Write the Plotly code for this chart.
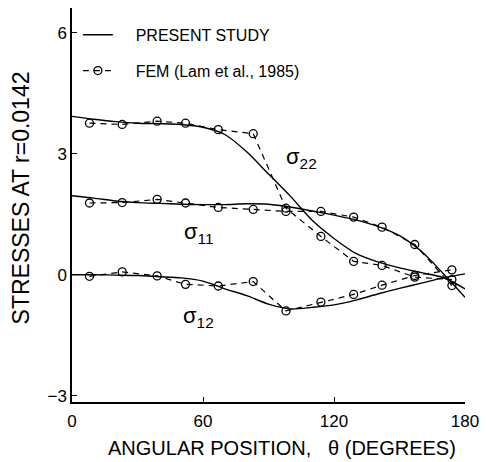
import plotly.graph_objects as go

# Analytical solution (present study), sampled along the angular position
theta_model = [0, 10, 20, 30, 40, 50, 60, 70, 80, 90, 100, 110, 120, 130, 140, 150, 160, 170, 180]
s22_model = [3.93, 3.86, 3.80, 3.76, 3.75, 3.73, 3.66, 3.48, 3.05, 2.50, 1.95, 1.35, 0.90, 0.53, 0.32, 0.17, 0.05, -0.07, -0.35]
s11_model = [1.96, 1.90, 1.83, 1.79, 1.77, 1.75, 1.74, 1.74, 1.76, 1.75, 1.68, 1.58, 1.48, 1.36, 1.20, 0.97, 0.58, 0.03, -0.56]
s12_model = [0.00, 0.00, -0.01, -0.02, -0.05, -0.08, -0.16, -0.35, -0.52, -0.73, -0.85, -0.81, -0.75, -0.63, -0.48, -0.34, -0.21, -0.08, 0.02]

# Finite element results (Lam et al., 1985)
theta_fem = [8, 23, 39, 52, 67, 83, 98, 114, 129, 142, 157, 174]
s22_fem = [3.76, 3.73, 3.81, 3.76, 3.60, 3.50, 1.65, 0.95, 0.33, 0.23, -0.06, -0.12]
s11_fem = [1.78, 1.79, 1.87, 1.78, 1.67, 1.62, 1.57, 1.57, 1.43, 1.18, 0.75, -0.27]
s12_fem = [-0.04, 0.07, -0.03, -0.24, -0.28, -0.17, -0.90, -0.68, -0.49, -0.26, -0.02, 0.12]

x_ticks = [0, 60, 120, 180]
y_ticks = [-3, 0, 3, 6]

FONT = "Liberation Sans"
INK = "black"
PAD = "\u00a0" * 4  # extra gap between legend sample and its label

fig = go.Figure()

models = [s22_model, s11_model, s12_model]
fems = [s22_fem, s11_fem, s12_fem]

for i, vals in enumerate(models):
    fig.add_trace(go.Scatter(
        x=theta_model, y=vals, mode="lines",
        line=dict(color=INK, width=1.4, shape="spline", smoothing=0.8),
        name=PAD + "PRESENT STUDY", legendgroup="model",
        showlegend=(i == 0),
    ))

for i, vals in enumerate(fems):
    fig.add_trace(go.Scatter(
        x=theta_fem, y=vals, mode="lines+markers",
        line=dict(color=INK, width=1.2, dash="6px,5px"),
        marker=dict(symbol="circle-open", size=8, color=INK, line=dict(width=1.3)),
        name=PAD + "FEM (Lam et al., 1985)", legendgroup="fem",
        showlegend=(i == 0),
    ))

# Component labels
labels = [(105, 2.9, "22"), (58, 1.03, "11"), (58, -1.06, "12")]
for x, y, sub in labels:
    fig.add_annotation(x=x, y=y, xref="x", yref="y", showarrow=False,
                       text=f"σ<sub>{sub}</sub>",
                       font=dict(family=FONT, size=22, color=INK))

# Axis titles
fig.add_annotation(x=0.535, y=-0.117, xref="paper", yref="paper", showarrow=False,
                   xanchor="center", yanchor="middle",
                   text="ANGULAR POSITION,   θ (DEGREES)",
                   font=dict(family=FONT, size=20, color=INK))
fig.add_annotation(x=-0.131, y=0.518, xref="paper", yref="paper", showarrow=False,
                   xanchor="center", yanchor="middle",
                   text="STRESSES AT r=0.0142", textangle=-90,
                   font=dict(family=FONT, size=23, color=INK))

fig.update_layout(
    width=487, height=462,
    margin=dict(l=72, r=17, t=8, b=60),
    paper_bgcolor="white", plot_bgcolor="white",
    font=dict(family=FONT, color=INK),
    showlegend=True,
    legend=dict(x=0.015, y=0.975, xanchor="left", yanchor="top",
                font=dict(family=FONT, size=16, color=INK),
                tracegroupgap=12, bgcolor="rgba(0,0,0,0)"),
    xaxis=dict(range=[0, 180], tickvals=x_ticks, ticks="inside", ticklen=5,
               tickwidth=1.2, tickcolor=INK, showline=True, linecolor=INK,
               linewidth=1.5, showgrid=False, zeroline=False,
               ticklabelstandoff=3,
               tickfont=dict(family=FONT, size=17, color=INK)),
    yaxis=dict(range=[-3.16, 6.62], tickvals=y_ticks, ticks="inside", ticklen=5,
               tickwidth=1.2, tickcolor=INK, showline=True, linecolor=INK,
               linewidth=1.5, showgrid=False, zeroline=False,
               tickfont=dict(family=FONT, size=17, color=INK)),
)

fig.write_html("out.html")
